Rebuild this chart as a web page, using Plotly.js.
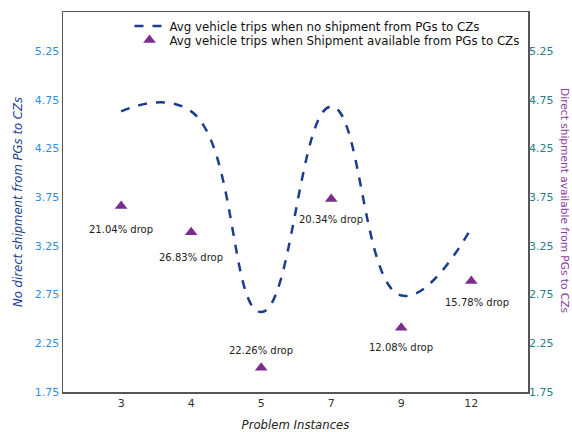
<!DOCTYPE html>
<html>
<head>
<meta charset="utf-8">
<script src="https://cdn.plot.ly/plotly-3.0.1.min.js"></script>
<style>html,body{margin:0;padding:0;background:#fff;}#chart{width:572px;height:432px;}</style>
</head>
<body>
<div id="chart"></div>
<script>
var categories = ['3', '4', '5', '7', '9', '12'];
var noShipment = [4.63, 4.63, 2.57, 4.68, 2.74, 3.43];
var withShipment = [3.66, 3.39, 2.00, 3.73, 2.41, 2.89];
var dropLabels = ['21.04% drop', '26.83% drop', '22.26% drop', '20.34% drop', '12.08% drop', '15.78% drop'];
var labelShiftY = [-24, -25, 17, -20, -20, -22];
var labelShiftX = [0, 0, 0, 0, 0, 6];
var yTicks = [1.75, 2.25, 2.75, 3.25, 3.75, 4.25, 4.75, 5.25];

var font = 'DejaVu Sans, Lucida Grande, sans-serif';

var traces = [
  {
    x: categories, y: noShipment, type: 'scatter', mode: 'lines',
    name: 'Avg vehicle trips when no shipment from PGs to CZs',
    line: {color: '#1b3d8c', width: 2.5, dash: 'dash', shape: 'spline', smoothing: 1.3},
    yaxis: 'y', legend: 'legend'
  },
  {
    x: categories, y: withShipment, type: 'scatter', mode: 'markers',
    name: 'Avg vehicle trips when Shipment available from PGs to CZs',
    marker: {symbol: 'triangle-up', size: 11, color: '#7b2d8e'},
    yaxis: 'y2', legend: 'legend2'
  }
];

var annotations = categories.map(function (c, i) {
  return {
    x: i, y: withShipment[i], xref: 'x', yref: 'y2',
    text: dropLabels[i], showarrow: false,
    yshift: labelShiftY[i], xshift: labelShiftX[i],
    font: {family: font, size: 10, color: '#222'}
  };
});
annotations.push({
  xref: 'paper', yref: 'paper', x: 1.0796, y: 0.505,
  text: 'Direct shipment available from PGs to CZs', showarrow: false,
  textangle: 90, xanchor: 'center', yanchor: 'middle',
  font: {family: font, size: 10.6, color: '#8e3a9e'}
});

var yTickText = yTicks.map(function (v) { return v.toFixed(2); });

var legendCommon = {
  xanchor: 'left', yanchor: 'middle',
  bgcolor: 'rgba(0,0,0,0)', font: {family: font, size: 11.8, color: '#111'}
};

var layout = {
  width: 572, height: 432,
  margin: {l: 63, r: 44, t: 12, b: 40},
  paper_bgcolor: '#fff', plot_bgcolor: '#fff',
  font: {family: font},
  showlegend: true,
  legend: Object.assign({x: 0.143, y: 0.963}, legendCommon),
  legend2: Object.assign({x: 0.143, y: 0.926}, legendCommon),
  xaxis: {
    type: 'category', range: [-0.83, 5.81],
    showgrid: false, zeroline: false, ticks: '',
    showline: true, linecolor: '#555', linewidth: 1.5, mirror: true,
    tickfont: {family: font, size: 11, color: '#333'},
    title: {text: '<i>Problem Instances</i>', font: {family: font, size: 11.7, color: '#222'}, standoff: 18}
  },
  yaxis: {
    range: [1.75, 5.65], tickvals: yTicks, ticktext: yTickText,
    showgrid: false, zeroline: false, ticks: '',
    showline: true, linecolor: '#555', linewidth: 1.5, mirror: true,
    tickfont: {family: font, size: 11, color: '#2a8fe8'},
    title: {text: '<i>No direct shipment from PGs to CZs</i>', font: {family: font, size: 11.7, color: '#1b3d8c'}, standoff: 9}
  },
  yaxis2: {
    range: [1.75, 5.65], tickvals: yTicks, ticktext: yTickText,
    overlaying: 'y', side: 'right',
    showgrid: false, zeroline: false, ticks: '', showline: false,
    tickfont: {family: font, size: 11, color: '#2a7d8a'}
  },
  annotations: annotations
};

Plotly.newPlot('chart', traces, layout, {displayModeBar: false, staticPlot: true});
</script>
</body>
</html>
